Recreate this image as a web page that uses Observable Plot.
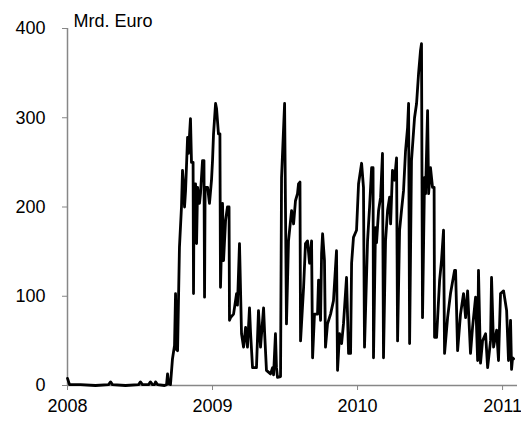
<!DOCTYPE html>
<html><head><meta charset="utf-8">
<script src="https://cdn.jsdelivr.net/npm/d3@7"></script>
<script src="https://cdn.jsdelivr.net/npm/@observablehq/plot@0.6"></script>
<style>body{margin:0;background:#fff}</style>
</head><body><div id="chart"></div>
<script>
// time as decimal years, values in Mrd. Euro
const times = [
2008.000,2008.014,2008.090,2008.193,2008.283,2008.297,2008.310,2008.400,2008.490,2008.503,
2008.517,2008.559,2008.572,2008.586,2008.600,2008.607,2008.621,2008.669,2008.683,2008.690,
2008.697,2008.710,2008.724,2008.738,2008.745,2008.752,2008.759,2008.772,2008.786,2008.793,
2008.800,2008.807,2008.814,2008.828,2008.834,2008.848,2008.855,2008.866,2008.869,2008.873,2008.883,2008.890,
2008.897,2008.910,2008.917,2008.931,2008.941,2008.945,2008.949,2008.966,2008.979,2008.993,2009.000,2009.007,
2009.021,2009.028,2009.041,2009.051,2009.055,2009.069,2009.076,2009.090,2009.103,2009.114,2009.117,2009.124,
2009.145,2009.166,2009.172,2009.186,2009.200,2009.214,2009.228,2009.241,2009.255,2009.262,
2009.276,2009.303,2009.317,2009.331,2009.352,2009.359,2009.372,2009.400,2009.414,2009.421,
2009.434,2009.441,2009.448,2009.469,2009.476,2009.497,2009.510,2009.524,2009.545,2009.559,
2009.572,2009.586,2009.593,2009.603,2009.607,2009.628,2009.641,2009.655,2009.669,2009.683,2009.690,
2009.703,2009.724,2009.731,2009.745,2009.752,2009.759,2009.772,2009.779,2009.793,2009.814,
2009.834,2009.855,2009.862,2009.876,2009.890,2009.903,2009.924,2009.938,2009.952,2009.959,
2009.972,2009.993,2010.007,2010.028,2010.041,2010.048,2010.069,2010.083,2010.097,2010.107,2010.110,
2010.124,2010.131,2010.145,2010.159,2010.172,2010.179,2010.193,2010.207,2010.221,2010.228,
2010.241,2010.255,2010.269,2010.276,2010.290,2010.303,2010.317,2010.331,2010.345,2010.352,
2010.359,2010.372,2010.393,2010.407,2010.421,2010.434,2010.441,2010.448,2010.462,2010.469,
2010.483,2010.490,2010.503,2010.517,2010.528,2010.531,2010.545,2010.566,2010.579,2010.593,2010.600,
2010.621,2010.641,2010.669,2010.676,2010.690,2010.710,2010.731,2010.745,2010.759,2010.779,
2010.793,2010.814,2010.828,2010.834,2010.848,2010.862,2010.883,2010.897,2010.917,2010.924,
2010.938,2010.959,2010.972,2010.986,2011.007,2011.028,2011.041,2011.055,2011.062,2011.069,
2011.076
];
const values = [
8,1,1,0,1,4,1,0,1,4,
1,1,4,1,1,4,1,0,1,13,
2,1,30,45,103,40,39,155,200,241,
225,200,218,278,260,299,250,250,103,226,226,159,
222,204,215,252,252,99,222,222,204,230,252,282,
316,310,282,282,110,204,140,185,200,200,73,76,
80,103,90,159,58,43,65,43,87,60,
20,20,84,43,87,60,17,13,20,12,
58,20,9,10,233,316,69,162,196,181,
207,215,226,228,50,110,159,162,137,162,31,
80,80,118,73,148,170,140,43,69,80,
95,151,17,58,47,69,121,36,36,137,
166,174,226,249,222,43,162,200,244,244,31,
177,160,196,211,260,31,162,196,211,181,
241,230,255,50,174,196,218,263,289,316,
47,252,300,316,350,375,383,76,233,215,
308,215,244,222,222,54,54,118,140,174,36,
76,103,129,129,39,80,103,76,106,36,
65,99,28,129,25,50,58,20,50,121,
43,62,28,103,106,84,28,73,18,31,
30
];
const xTicks = [2008, 2009, 2010, 2011];
const yTicks = [0, 100, 200, 300, 400];
const unitLabel = ["Mrd. Euro"];

const data = times.map((t, i) => ({t, v: values[i]}));
const axisGray = "#878787";
const font = "'Liberation Sans', Arial, Helvetica, sans-serif";

const chart = Plot.plot({
  width: 521, height: 427,
  marginLeft: 67, marginRight: 4, marginTop: 28, marginBottom: 42,
  style: {fontFamily: font, fontSize: "18px", color: "#000", background: "#fff"},
  x: {domain: [2008, 2011.103]},
  y: {domain: [0, 400]},
  marks: [
    Plot.ruleX([2008], {stroke: axisGray, strokeWidth: 1.5}),
    Plot.ruleY([0], {stroke: axisGray, strokeWidth: 1.5}),
    Plot.axisY({ticks: yTicks, tickSize: 5, tickPadding: 17, stroke: axisGray, fill: "#000", label: null, fontSize: 18}),
    Plot.axisX({ticks: xTicks, tickSize: 5, tickPadding: 9, stroke: axisGray, fill: "#000", tickFormat: d => String(d), label: null, fontSize: 18}),
    Plot.line(data, {x: "t", y: "v", stroke: "#000", strokeWidth: 2.8, strokeLinejoin: "round"}),
    Plot.text(unitLabel, {frameAnchor: "top-left", dx: 6, dy: -2, lineAnchor: "bottom", textAnchor: "start", fontSize: 18, fill: "#000"})
  ]
});
document.getElementById("chart").appendChild(chart);
</script>
</body></html>
